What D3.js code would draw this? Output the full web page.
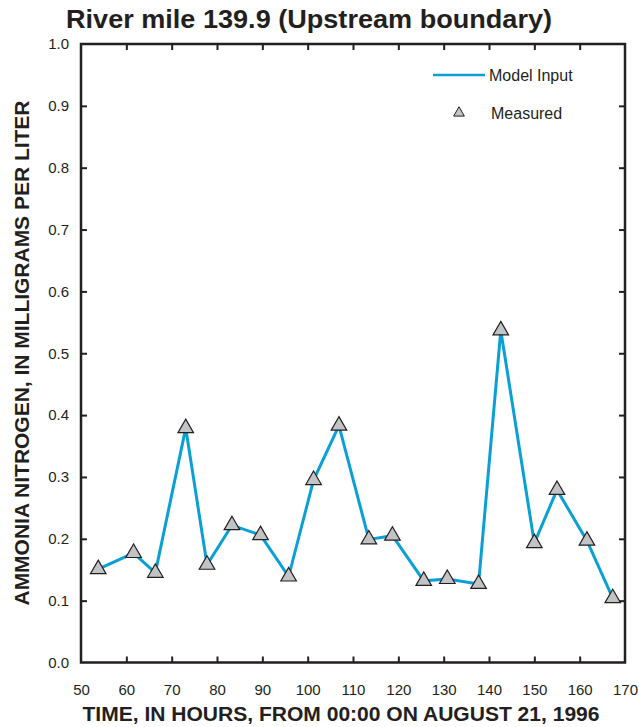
<!DOCTYPE html>
<html>
<head>
<meta charset="utf-8">
<script src="https://cdn.jsdelivr.net/npm/d3@7"></script>
<style>
  html, body { margin: 0; padding: 0; background: #fff; }
  svg { display: block; }
  text { font-family: "Liberation Sans", Arial, Helvetica, sans-serif; fill: #231f20; }
</style>
</head>
<body>
<svg id="chart" width="639" height="727"></svg>
<script>
// ---- data ----
const hours = [53.8, 61.6, 66.4, 73.1, 77.8, 83.3, 89.6, 95.8, 101.3, 106.9,
               113.5, 118.7, 125.6, 130.8, 137.7, 142.6, 150.0, 155.0, 161.6, 167.3];
const measured = [0.151, 0.177, 0.145, 0.379, 0.158, 0.222, 0.206, 0.139, 0.295, 0.383,
                  0.199, 0.205, 0.132, 0.135, 0.127, 0.537, 0.193, 0.279, 0.197, 0.104];
const modelInput = measured.slice();
const xTicks = [50, 60, 70, 80, 90, 100, 110, 120, 130, 140, 150, 160, 170];
const yTicks = [0.0, 0.1, 0.2, 0.3, 0.4, 0.5, 0.6, 0.7, 0.8, 0.9, 1.0];
const titleText = "River mile 139.9 (Upstream boundary)";
const xTitle = "TIME, IN HOURS, FROM 00:00 ON AUGUST 21, 1996";
const yTitle = "AMMONIA NITROGEN, IN MILLIGRAMS PER LITER";
const legendLabels = ["Model Input", "Measured"];

// ---- layout ----
const svg = d3.select("#chart");
const L = 81, R = 625, T = 44, B = 662.5;
const x = d3.scaleLinear().domain([50, 170]).range([L, R]);
const y = d3.scaleLinear().domain([0, 1]).range([B, T]);
const ink = "#231f20";
const tickLen = 6;

// title
svg.append("text").attr("x", 66).attr("y", 28)
  .attr("font-size", 25).attr("font-weight", "bold")
  .attr("textLength", 486).attr("lengthAdjust", "spacingAndGlyphs").text(titleText);

// axes with inward ticks
const fmt = d3.format(".1f");
const gB = svg.append("g").attr("transform", `translate(0,${B})`)
  .call(d3.axisBottom(x).tickValues(xTicks).tickSizeInner(-tickLen).tickSizeOuter(0).tickPadding(tickLen + 16));
const gT = svg.append("g").attr("transform", `translate(0,${T})`)
  .call(d3.axisTop(x).tickValues(xTicks.slice(1, -1)).tickSizeInner(-tickLen).tickSizeOuter(0).tickFormat(""));
const gL = svg.append("g").attr("transform", `translate(${L},0)`)
  .call(d3.axisLeft(y).tickValues(yTicks).tickFormat(fmt).tickSizeInner(-tickLen).tickSizeOuter(0).tickPadding(tickLen + 6));
const gR = svg.append("g").attr("transform", `translate(${R},0)`)
  .call(d3.axisRight(y).tickValues(yTicks.slice(1, -1)).tickSizeInner(-tickLen).tickSizeOuter(0).tickFormat(""));

[gB, gT, gL, gR].forEach(g => {
  g.select(".domain").remove();
  g.selectAll(".tick line").attr("stroke", ink).attr("stroke-width", 2);
  g.selectAll(".tick text").attr("font-size", 15).attr("fill", ink)
    .attr("font-family", "'Liberation Sans', Arial, sans-serif");
});
gB.selectAll(".tick").filter(d => d === 50 || d === 170).select("line").remove();
gL.selectAll(".tick").filter(d => d === 0 || d === 1).select("line").remove();

// frame
svg.append("rect").attr("x", L).attr("y", T).attr("width", R - L).attr("height", B - T)
  .attr("fill", "none").attr("stroke", ink).attr("stroke-width", 2.5);

// axis titles
svg.append("text").attr("x", 341).attr("y", 721).attr("text-anchor", "middle")
  .attr("font-size", 21).attr("font-weight", "bold")
  .attr("textLength", 517).attr("lengthAdjust", "spacingAndGlyphs").text(xTitle);
svg.append("text").attr("transform", "translate(29,353) rotate(-90)").attr("text-anchor", "middle")
  .attr("font-size", 20).attr("font-weight", "bold")
  .attr("textLength", 505).attr("lengthAdjust", "spacingAndGlyphs").text(yTitle);

// model input line
const lineColor = "#0aa0d6";
svg.append("path").datum(hours.map((h, i) => [h, modelInput[i]]))
  .attr("fill", "none").attr("stroke", lineColor).attr("stroke-width", 3)
  .attr("stroke-linejoin", "miter")
  .attr("d", d3.line().x(d => x(d[0])).y(d => y(d[1])));

// measured triangles
const tri = d3.symbol().type(d3.symbolTriangle).size(105);
svg.append("g").selectAll("path").data(hours.map((h, i) => [h, measured[i]])).join("path")
  .attr("transform", d => `translate(${x(d[0])},${y(d[1])})`)
  .attr("d", tri).attr("fill", "#c2c3c5").attr("stroke", ink).attr("stroke-width", 1.2);

// legend
svg.append("line").attr("x1", 433).attr("x2", 485).attr("y1", 75).attr("y2", 75)
  .attr("stroke", lineColor).attr("stroke-width", 2.4);
svg.append("text").attr("x", 489).attr("y", 80.5).attr("font-size", 16).text(legendLabels[0]);
svg.append("path").attr("transform", "translate(459,113)")
  .attr("d", d3.symbol().type(d3.symbolTriangle).size(50))
  .attr("fill", "#c2c3c5").attr("stroke", ink).attr("stroke-width", 1);
svg.append("text").attr("x", 491).attr("y", 118.5).attr("font-size", 16).text(legendLabels[1]);
</script>
</body>
</html>
